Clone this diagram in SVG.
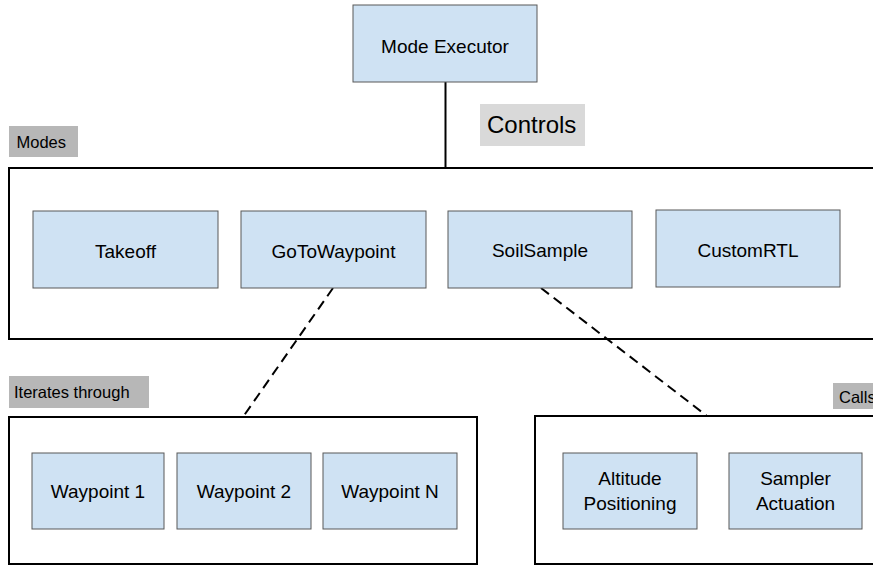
<svg xmlns="http://www.w3.org/2000/svg" width="873" height="565" viewBox="0 0 873 565">
<style>
.bg{fill:#ffffff}
.node rect{fill:#cfe2f3;stroke:#595959;stroke-width:1}
.node text,.lbl text{font-family:"Liberation Sans",Arial,sans-serif;fill:#000000}
.node text{font-size:19px;text-anchor:middle}
.cont{fill:none;stroke:#000000;stroke-width:2}
.tag rect{fill:#b7b7b7}
.tag text{font-size:16.5px}
.conn{fill:none;stroke:#000000;stroke-width:2}
.dash{stroke-dasharray:10 6}
</style>
<rect class="bg" x="0" y="0" width="873" height="565"/>
<g id="containers">
<rect id="modes-box" class="cont" x="9" y="168" width="880" height="171"/>
<rect id="iterates-box" class="cont" x="9" y="417" width="468" height="147"/>
<rect id="calls-box" class="cont" x="535" y="416" width="360" height="148"/>
</g>
<g id="labels" class="lbl">
<g id="label-controls"><rect x="480" y="104" width="105" height="42" fill="#d9d9d9"/><text x="487" y="133" font-size="24px">Controls</text></g>
<g id="label-modes" class="tag"><rect x="9" y="126" width="69" height="31"/><text x="16.5" y="148">Modes</text></g>
<g id="label-iterates" class="tag"><rect x="9" y="376" width="140" height="32"/><text x="14" y="398">Iterates through</text></g>
<g id="label-calls" class="tag"><rect x="833" y="383" width="50" height="26"/><text x="839" y="403">Calls</text></g>
</g>
<g id="connectors">
<line class="conn" x1="445.5" y1="82" x2="445.5" y2="168"/>
<line class="conn dash" x1="333" y1="288" x2="243" y2="417"/>
<line class="conn dash" x1="541" y1="288" x2="707" y2="416"/>
</g>
<g id="mode-executor" class="node"><rect x="353" y="5" width="184" height="77"/><text x="445" y="53">Mode Executor</text></g>
<g id="takeoff" class="node"><rect x="33" y="211" width="185" height="77"/><text x="125.5" y="258">Takeoff</text></g>
<g id="gotowaypoint" class="node"><rect x="241" y="211" width="185" height="77"/><text x="333.5" y="258">GoToWaypoint</text></g>
<g id="soilsample" class="node"><rect x="448" y="211" width="184" height="77"/><text x="540" y="257">SoilSample</text></g>
<g id="customrtl" class="node"><rect x="656" y="210" width="184" height="77"/><text x="748" y="256.5">CustomRTL</text></g>
<g id="waypoint-1" class="node"><rect x="32" y="453" width="132" height="76"/><text x="98" y="498">Waypoint 1</text></g>
<g id="waypoint-2" class="node"><rect x="177" y="453" width="134" height="76"/><text x="244" y="498">Waypoint 2</text></g>
<g id="waypoint-n" class="node"><rect x="323" y="453" width="134" height="76"/><text x="390" y="498">Waypoint N</text></g>
<g id="altitude-positioning" class="node"><rect x="563" y="453" width="134" height="76"/><text x="630" y="485">Altitude</text><text x="630" y="510">Positioning</text></g>
<g id="sampler-actuation" class="node"><rect x="729" y="453" width="133" height="76"/><text x="795.5" y="485">Sampler</text><text x="795.5" y="510">Actuation</text></g>
</svg>
